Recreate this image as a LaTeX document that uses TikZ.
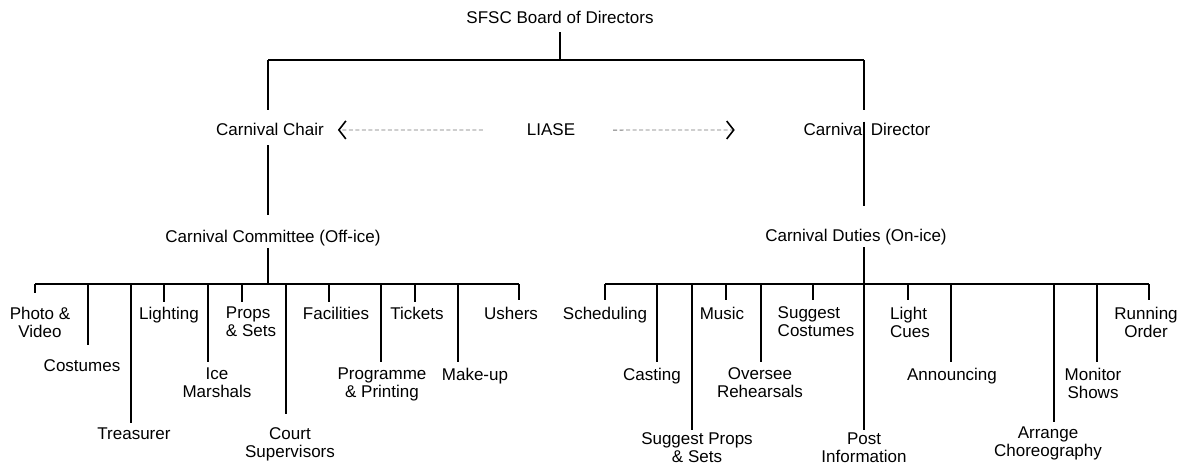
\documentclass[tikz,border=0pt]{standalone}
\usepackage{fontspec}
\setmainfont{Liberation Sans}
\usetikzlibrary{arrows.meta,positioning}
\tikzstyle{lbl}=[inner sep=0pt,outer sep=0pt,text=black,font=\fontsize{17}{18}\selectfont]
\tikzstyle{head}=[lbl,anchor=base]
\tikzstyle{leaf}=[lbl,anchor=north]
\tikzstyle{link}=[line width=1.2pt]
\tikzstyle{liaise}=[draw=black!55,dash pattern=on 4pt off 2.5pt,line width=0.8pt,
               -{Straight Barb[length=7pt,width=18pt,line width=1.6pt,color=black]}]

\begin{document}
\begin{tikzpicture}[x=1pt,y=-1pt]
\useasboundingbox (0,0) rectangle (1186,465);
\node[head] (board) at (560,24) {SFSC Board of Directors};
\node[head] (chair) at (270,136) {Carnival Chair};
\node[head] (liase) at (551,136) {LIASE};
\node[head] (director) at (867,136) {Carnival Director};
\node[head] (office) at (273,243) {Carnival Committee (Off-ice)};
\node[head] (onice) at (856,241) {Carnival Duties (On-ice)};
\coordinate (topL) at (268,60);
\coordinate (topM) at (560,60);
\coordinate (topR) at (864,60);
\coordinate (offhub) at (268,284);
\coordinate (onhub) at (864,284);

\draw[link,shorten <=8pt] (board.south) -- (topM);
\draw[link] (topL) -- (topR);
\draw[link,shorten >=14pt] (topL) -- (topL |- chair.north);
\draw[link,shorten <=9pt,shorten >=16pt] (topL |- chair.south) -- (topL |- office.north);
\draw[link,shorten <=1.5pt] (offhub |- office.south) -- (offhub);
\draw[link,shorten >=14pt] (topR) -- (topR |- director.north);
\draw[link,shorten <=-2pt,shorten >=23pt] (topR |- director.north) -- (topR |- onice.north);
\draw[link,shorten <=2.5pt] (onhub |- onice.south) -- (onhub);
\draw[liaise,shorten <=44pt,shorten >=14pt] (liase.west) -- (chair.east);
\draw[liaise,shorten <=38pt,shorten >=69pt] (liase.east) -- (director.west);

\foreach \n/\bx/\tx/\ty/\cut/\al/\txt in {
  photo/35/40/307/14pt/center/{Photo \&\\Video},
  costumes/88/82/360/15pt/center/{Costumes},
  treasurer/131/134/428/5pt/center/{Treasurer},
  lighting/164/169/307/5pt/center/{Lighting},
  ice/208/217/368/6pt/center/{Ice\\Marshals},
  props/242/251/307/5pt/left/{Props\\\& Sets},
  court/286/290/428/14pt/center/{Court\\Supervisors},
  facilities/329/336/307/5pt/center/{Facilities},
  programme/381/382/368/6pt/center/{Programme\\\& Printing},
  tickets/415/417/307/5pt/center/{Tickets},
  makeup/458/475/368/6pt/center/{Make-up},
  ushers/519/511/307/7pt/center/{Ushers},
  scheduling/605/605/307/7pt/center/{Scheduling},
  casting/657/652/368/6pt/center/{Casting},
  sprops/692/697/433/3pt/center/{Suggest Props\\\& Sets},
  music/726/722/307/7pt/center/{Music},
  oversee/761/760/368/6pt/center/{Oversee\\Rehearsals},
  scostumes/813/816/307/7pt/left/{Suggest\\Costumes},
  post/864/864/433/3pt/center/{Post\\Information},
  lightcues/908/910/307/7pt/left/{Light\\Cues},
  announcing/951/952/368/6pt/center/{Announcing},
  arrange/1054/1048/427/5pt/center/{Arrange\\Choreography},
  monitor/1097/1093/368/6pt/center/{Monitor\\Shows},
  running/1149/1146/307/7pt/center/{Running\\Order}} {
  \coordinate (\n-b) at (\bx,284);
  \node[leaf,align=\al] (\n) at (\tx,\ty) {\txt};
  \draw[link,shorten >=\cut] (\n-b) -- (\n-b |- \n.north);
}
\draw[link] (photo-b) -- (ushers-b);
\draw[link] (scheduling-b) -- (running-b);
\end{tikzpicture}
\end{document}
